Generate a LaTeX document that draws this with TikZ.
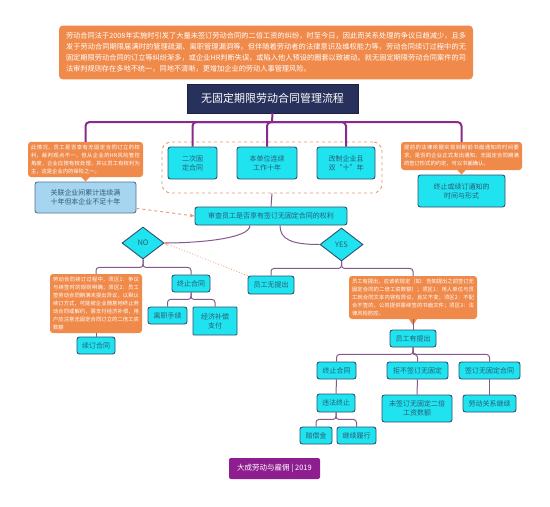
\documentclass[tikz,border=0pt]{standalone}
\usepackage{fontspec}
\setmainfont{Noto Sans CJK SC}
\XeTeXlinebreaklocale "zh"
\XeTeXlinebreakskip = 0pt plus 1pt
\usetikzlibrary{shapes.geometric,arrows.meta,calc}
\definecolor{cyanbox}{HTML}{1FE4EF}
\definecolor{cyanedge}{HTML}{2F4F72}
\definecolor{cyantext}{HTML}{2C5A78}
\definecolor{orangebox}{HTML}{F08A4B}
\definecolor{navy}{HTML}{27315B}
\definecolor{barpurple}{HTML}{8A2A8C}
\definecolor{linepurple}{HTML}{86598C}
\definecolor{lightblue}{HTML}{A6D5F0}
\definecolor{footpurple}{HTML}{8E1E8F}
\definecolor{dashorange}{HTML}{E59A72}
\begin{document}
\begin{tikzpicture}[x=1pt,y=-1pt,
  cbox/.style={draw=cyanedge, fill=cyanbox, line width=0.9pt, rounded corners=2.5pt, inner sep=1pt, align=center, text=cyantext, font=\fontsize{7}{9}\selectfont},
  obox/.style={fill=orangebox, rounded corners=3pt, text=white, inner sep=3pt, align=justify, font=\fontsize{5.3}{8}\selectfont},
  dia/.style={diamond, draw=cyanedge, fill=cyanbox, line width=0.9pt, inner sep=0pt, text=cyantext, font=\fontsize{7.5}{9}\selectfont},
  topbar/.style={draw=barpurple, line width=2pt, rounded corners=4pt},
  tree/.style={draw=linepurple, line width=1pt, rounded corners=3pt},
  hint/.style={draw=dashorange, line width=0.9pt, dashed, -{Stealth[length=5pt]}}
]
\useasboundingbox[fill=white] (0,0) rectangle (550,507);

% intro paragraph
\node[fill=orangebox, rounded corners=4pt, text=white, inner sep=7pt, text width=400pt, minimum height=49pt, align=justify, font=\fontsize{7.2}{11}\selectfont] (intro) at (266,52.5) {劳动合同法于2008年实施时引发了大量未签订劳动合同的二倍工资的纠纷，时至今日，因此而关系处理的争议日趋减少，且多发于劳动合同期限届满时的管理疏漏、离职管理漏洞等。但伴随着劳动者的法律意识及维权能力等，劳动合同续订过程中的无固定期限劳动合同的订立等纠纷渐多，或企业HR判断失误，或陷入他人预设的圈套以致被动。就无固定期限劳动合同案件的司法审判规则存在多地不统一，同地不清晰，更增加企业的劳动人事管理风险。};

% title
\node[fill=navy, draw=navy!70!black, text=white, minimum width=171pt, minimum height=29pt, inner sep=2pt, font=\fontsize{11}{13}\selectfont] (title) at (272.5,98.5) {无固定期限劳动合同管理流程};

% dashed group with three conditions
\node[draw=dashorange, dashed, line width=0.9pt, rounded corners=9pt, minimum width=220pt, minimum height=51pt] (grp) at (272,167.5) {};
\node[cbox, minimum width=49pt, minimum height=32pt] (b1) at (192.5,163) {二次固\\定合同};
\node[cbox, minimum width=60pt, minimum height=32pt] (b2) at (267,163) {本单位连续\\工作十年};
\node[cbox, minimum width=58pt, minimum height=32pt] (b3) at (346,163) {改制企业且\\双“十”年};

% left branch
\node[obox, text width=109pt, minimum height=35pt] (lo) at (85.5,159.5) {此情况，员工是否享有无固定合同订立的权利，裁判观点不一，但从企业的HR风险管控角度，企业应按有权处理，并以员工有权利为主，这是企业内的保险之一。};
\node[draw=cyanedge!80, fill=lightblue, line width=0.9pt, rounded corners=2.5pt, minimum width=101pt, minimum height=31pt, inner sep=1pt, align=center, text=cyantext, font=\fontsize{7}{9}\selectfont] (assoc) at (85.5,197.5) {关联企业间累计连续满\\十年但本企业不足十年};

% right branch
\node[obox, text width=115pt, minimum height=28pt] (ro) at (461.5,156) {提前的法律依据实现到期前书面通知的时间要求，是否的企业正式发出通知，无固定合同期满的签订形式的约定，可以书面确认。};
\node[cbox, minimum width=87pt, minimum height=32pt] (notice) at (461.5,191) {终止或续订通知的\\时间与形式};

% review
\node[cbox, minimum width=152pt, minimum height=18pt] (review) at (271,216) {审查员工是否享有签订无固定合同的权利};

% decisions
\node[dia, minimum width=42pt, minimum height=32pt] (no) at (143,243) {NO};
\node[dia, minimum width=43pt, minimum height=33pt] (yes) at (341.5,244.5) {YES};

% NO side
\node[obox, text width=86pt, minimum height=59pt] (nor) at (96,303.5) {劳动合同续订过程中，须区1：争议与续签时的规则明确；须区2：员工签劳动合同期满未提出异议，以默认续订方式，可能被企业随意地终止劳动合同或解约，需支付经济补偿，用户应注意无固定合同订立的二倍工资数额};
\node[cbox, minimum width=38pt, minimum height=17pt] (renew) at (96,345.5) {续订合同};
\node[cbox, minimum width=38pt, minimum height=17pt] (term1) at (191,283.5) {终止合同};
\node[cbox, minimum width=39pt, minimum height=17pt] (resign) at (167.5,315.5) {离职手续};
\node[cbox, rounded corners=1pt, minimum width=44pt, minimum height=28pt] (comp) at (215,321) {经济补偿\\支付};

% YES side
\node[cbox, minimum width=46pt, minimum height=18pt] (noraise) at (271,285) {员工无提出};
\node[obox, text width=122pt, minimum height=43pt] (yor) at (413,297.5) {员工有提出，应该依规定（如：告知提出之前签订无固定合同的二倍工资数额）；须区1：用人单位与员工就合同文本内容有异议，且又不变；须区2：不配合不签的，公司提供需续签的书面文件；须区3：法律风险防控。};
\node[cbox, minimum width=46pt, minimum height=17pt] (raise) at (413,338.5) {员工有提出};
\node[cbox, minimum width=39pt, minimum height=17pt] (t2) at (336.5,370.5) {终止合同};
\node[cbox, minimum width=61pt, minimum height=17pt] (refuse) at (417.5,370.5) {拒不签订无固定};
\node[cbox, minimum width=61pt, minimum height=17pt] (sign) at (489.5,370.5) {签订无固定合同};
\node[cbox, minimum width=38pt, minimum height=18pt] (illegal) at (336,403) {违法终止};
\node[cbox, minimum width=70pt, minimum height=27pt] (double) at (417,408.5) {未签订无固定二倍\\工资数额};
\node[cbox, minimum width=53pt, minimum height=17pt] (cont) at (489.5,403.5) {劳动关系继续};
\node[cbox, minimum width=32pt, minimum height=17pt] (comp2) at (316,435.5) {赔偿金};
\node[cbox, minimum width=39pt, minimum height=17pt] (perform) at (356.5,435.5) {继续履行};

% footer
\node[fill=footpurple, rounded corners=2pt, text=white, minimum width=91pt, minimum height=21pt, inner sep=1pt, font=\fontsize{7.5}{9}\selectfont] (footer) at (274.5,468.5) {大成劳动与雇佣 | 2019};

% top bar connectors
\coordinate (bar) at (272,122);
\draw[topbar] (title.south) -- (bar);
\draw[topbar] (bar) -| (lo.north);
\draw[topbar] (bar) -| (b1.north);
\draw[topbar] (bar) -| (b2.north);
\draw[topbar] (bar) -| (b3.north);
\draw[topbar] (bar) -| (ro.north);

% callout tails
\fill[orangebox] ($(lo.south)+(-4,0)$) -- ($(lo.south)+(4,0)$) -- (assoc.north) -- cycle;
\fill[orangebox] ($(ro.south)+(-4,0)$) -- ($(ro.south)+(4,0)$) -- (notice.north) -- cycle;
\fill[orangebox] ($(yor.south)+(-4,0)$) -- ($(yor.south)+(4,0)$) -- ($(yor.south)+(0,6)$) -- cycle;
\draw[tree] (yor.south) -- (raise.north);
\draw[tree] (nor.south) -- (renew.north);

% group to review, associated hint
\draw[tree] (grp.south) -- (review.north);
\draw[hint] (assoc.-12) -- (review.west);

% review to decisions
\draw[tree] ([xshift=-21pt]review.south) .. controls +(0,13) and +(35,0) .. (no.east);
\draw[tree] ([xshift=9pt]review.south) .. controls +(0,14) and +(-28,0) .. (yes.west);
\draw[draw=dashorange, line width=0.8pt, dotted, -{Stealth[length=4pt]}] (noraise.north west) -- (no.east);

% NO tree
\draw[tree] (no.south) -- ++(0,8) -| (nor.north);
\draw[tree] (no.south) -- ++(0,8) -| (term1.north);
\draw[tree] (term1.south) -- ++(0,7) -| (resign.north);
\draw[tree] (term1.south) -- ++(0,7) -| (comp.north);

% YES tree
\draw[tree] (yes.south) -- ++(0,7) -| (noraise.north);
\draw[tree] (yes.south) -- ++(0,7) -| (yor.north);
\draw[tree] (raise.south) -- ++(0,7) -| (t2.north);
\draw[tree] (raise.south) -- ++(0,7) -| (refuse.north);
\draw[tree] (raise.south) -- ++(0,7) -| (sign.north);
\draw[tree] (t2.south) -- (illegal.north);
\draw[tree] (refuse.south) -- (double.north);
\draw[tree] (sign.south) -- (cont.north);
\draw[tree] (illegal.south) -- ++(0,7) -| (comp2.north);
\draw[tree] (illegal.south) -- ++(0,7) -| (perform.north);
\end{tikzpicture}
\end{document}
